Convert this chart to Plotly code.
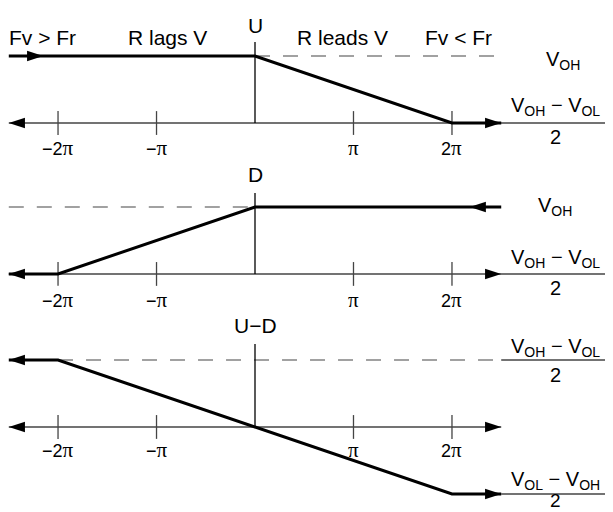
import plotly.graph_objects as go

# ---- data (phase in units of pi, level in normalized output units) ----
tick_phase = [-2, -1, 1, 2]
tick_labels = ["−2", "−", "", "2"]  # numeric prefix, pi added in markup
axis_left, axis_right = -2.5, 2.5

u_phase = [-2.5, 0, 2, 2.5]
u_level = [1, 1, 0, 0]
d_phase = [-2.5, -2, 0, 2.5]
d_level = [0, 0, 1, 1]
ud_phase = [-2.5, -2, 2, 2.5]
ud_level = [1, 1, -1, -1]

region_labels = ["Fv > Fr", "R lags V", "R leads V", "Fv < Fr"]
region_phase = [-2.16, -0.89, 0.89, 2.07]
panel_titles = ["U", "D", "U−D"]

# ---- layout constants ----
XMIN, XMAX = -2.508, 3.635
FONT = "Liberation Sans, Arial, Helvetica, sans-serif"
PI = '<span style="font-family:\'Liberation Serif\',serif;font-size:21px">π</span>'
AX_COL = "#444"
DASH_COL = "#444"

fig = go.Figure()
yrefs = ["y", "y2", "y3"]


def line(x, y, yr, color="black", width=3, dash=None):
    fig.add_trace(go.Scatter(x=x, y=y, yaxis=yr, mode="lines",
                             line=dict(color=color, width=width, dash=dash),
                             hoverinfo="skip", showlegend=False, cliponaxis=False))


def arrows(x, y, angles, yr, size=17, color="black"):
    fig.add_trace(go.Scatter(x=x, y=y, yaxis=yr, mode="markers",
                             marker=dict(symbol="arrow", size=size, angle=angles,
                                         color=color, line=dict(width=0)),
                             hoverinfo="skip", showlegend=False, cliponaxis=False))


def ticks(yr):
    fig.add_trace(go.Scatter(x=tick_phase, y=[0] * len(tick_phase), yaxis=yr, mode="markers",
                             marker=dict(symbol="line-ns", size=17,
                                         line=dict(width=1.3, color=AX_COL)),
                             hoverinfo="skip", showlegend=False, cliponaxis=False))


ann = []


def text(x, y, yr, s, size=21):
    ann.append(dict(x=x, y=y, xref="x", yref=yr, text=s, showarrow=False,
                    xanchor="center", yanchor="middle",
                    font=dict(family=FONT, size=size, color="black")))


DASH = "15px,13px"

# ---------- Panel 1 : U ----------
yr = "y"
line([axis_left, XMAX], [0, 0], yr, AX_COL, 1.4)
line([0, axis_right], [1, 1], yr, DASH_COL, 1.1, DASH)
line([0, 0], [0, 1.21], yr, "black", 1.3)
ticks(yr)
line(u_phase, u_level, yr)
arrows([-2.15, u_phase[-1], axis_left], [u_level[0], u_level[-1], 0], [90, 90, -90], yr)
text(0, 1.46, yr, panel_titles[0])
for lbl, xp in zip(region_labels, region_phase):
    text(xp, 1.28, yr, lbl)
text(3.13, 0.94, yr, "V<sub>OH</sub>", 20)
text(3.05, 0.25, yr, "V<sub>OH</sub> − V<sub>OL</sub>", 20)
text(3.05, -0.21, yr, "2", 20)

# ---------- Panel 2 : D ----------
yr = "y2"
line([axis_left, XMAX], [0, 0], yr, AX_COL, 1.4)
line([axis_left, 0], [1, 1], yr, DASH_COL, 1.1, DASH)
line([0, 0], [0, 1.21], yr, "black", 1.3)
ticks(yr)
line(d_phase, d_level, yr)
arrows([d_phase[0], 2.18, axis_right], [d_level[0], d_level[-1], 0], [-90, -90, 90], yr)
text(0, 1.49, yr, panel_titles[1])
text(3.05, 1.0, yr, "V<sub>OH</sub>", 20)
text(3.05, 0.23, yr, "V<sub>OH</sub> − V<sub>OL</sub>", 20)
text(3.05, -0.21, yr, "2", 20)

# ---------- Panel 3 : U-D ----------
yr = "y3"
line([axis_left, axis_right], [0, 0], yr, AX_COL, 1.4)
line([ud_phase[1], axis_right], [1, 1], yr, DASH_COL, 1.1, DASH)
line([axis_right, XMAX], [1, 1], yr, AX_COL, 1.4)
line([axis_right, XMAX], [-1, -1], yr, AX_COL, 1.4)
line([0, 0], [0, 1.24], yr, "black", 1.3)
ticks(yr)
line(ud_phase, ud_level, yr)
arrows([ud_phase[0], ud_phase[-1], axis_left, axis_right],
       [ud_level[0], ud_level[-1], 0, 0], [-90, 90, -90, 90], yr)
text(0, 1.52, yr, panel_titles[2])
text(3.05, 1.18, yr, "V<sub>OH</sub> − V<sub>OL</sub>", 20)
text(3.05, 0.78, yr, "2", 20)
text(3.05, -0.80, yr, "V<sub>OL</sub> − V<sub>OH</sub>", 20)
text(3.05, -1.09, yr, "2", 19)

# tick labels
for yr, ty in zip(yrefs, [-0.37, -0.39, -0.34]):
    for xp, lbl in zip(tick_phase, tick_labels):
        text(xp, ty, yr, lbl + PI, 18)

hidden = dict(visible=False, showgrid=False, zeroline=False, fixedrange=True)
fig.update_layout(
    width=605, height=504,
    margin=dict(l=0, r=0, t=0, b=0),
    paper_bgcolor="white", plot_bgcolor="white",
    xaxis=dict(range=[XMIN, XMAX], domain=[0, 1], **hidden),
    yaxis=dict(range=[-0.552, 1.716], domain=[0.6984, 1.0], anchor="x", **hidden),
    yaxis2=dict(range=[-0.687, 1.701], domain=[0.381, 0.6984], anchor="x", **hidden),
    yaxis3=dict(range=[-1.269, 1.597], domain=[0.0, 0.381], anchor="x", **hidden),
    annotations=ann,
    showlegend=False,
)

fig.write_html("out.html")
